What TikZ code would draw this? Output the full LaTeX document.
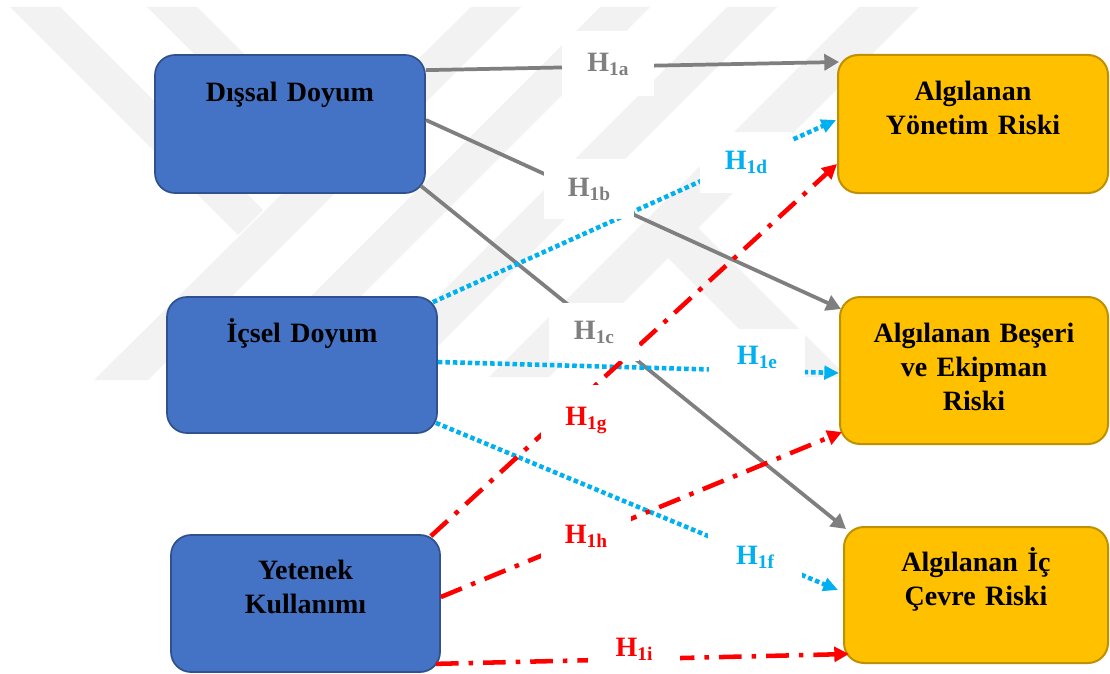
\documentclass[tikz,border=0pt]{standalone}
\usepackage{fontspec}
\setmainfont{Liberation Serif}
\usetikzlibrary{arrows.meta,calc}

\definecolor{boxblue}{HTML}{4472C4}
\definecolor{boxblueline}{HTML}{2F528F}
\definecolor{boxgold}{HTML}{FFC000}
\definecolor{boxgoldline}{HTML}{BF9000}
\definecolor{linkgray}{HTML}{7F7F7F}
\definecolor{linkcyan}{HTML}{00B0F0}
\definecolor{linkred}{HTML}{FF0000}
\definecolor{markgray}{HTML}{F2F2F2}

% hypothesis label: H with a lowered index
\newcommand{\hyp}[1]{H\raisebox{-3pt}{\fontsize{14.5}{15}\selectfont #1}}

\begin{document}
\begin{tikzpicture}[x=0.75pt,y=-0.75pt,
  bluebox/.style={draw=boxblueline,fill=boxblue,line width=1.3pt,rounded corners=15pt,inner sep=0pt},
  goldbox/.style={draw=boxgoldline,fill=boxgold,line width=1.5pt,rounded corners=15pt,inner sep=0pt},
  boxtext/.style={font=\fontsize{21}{25.5}\selectfont\bfseries,text width=190pt,align=center,anchor=base,inner sep=0pt},
  lbl/.style={fill=white,inner sep=0pt,font=\fontsize{21}{21}\selectfont\bfseries},
  graylink/.style={draw=linkgray,line width=2.8pt,-{Triangle[length=11pt,width=12pt]}},
  cyanlink/.style={draw=linkcyan,line width=3.4pt,dash pattern=on 3.4pt off 2.2pt,-{Triangle[length=11pt,width=10pt]}},
  redlink/.style={draw=linkred,line width=3.4pt,dash pattern=on 17pt off 7.5pt on 3.4pt off 7.5pt,-{Triangle[length=11pt,width=11pt]}}]

\useasboundingbox (0,0) rectangle (1110,674);
\fill[white] (0,0) rectangle (1110,674);

% faint background mark
\fill[markgray] (10,7) -- (60,7) -- (263,210) -- (238,235) -- cycle;
\fill[markgray] (471,7) -- (521,7) -- (148,380) -- (94,380) -- cycle;
\fill[markgray] (147,7) -- (197,7) -- (333,143) -- (307,167) -- cycle;
\fill[markgray] (600,7) -- (650,7) -- (277,380) -- (227,380) -- cycle;
\fill[markgray] (727,7) -- (777,7) -- (404,380) -- (354,380) -- cycle;
\fill[markgray] (859,7) -- (919,7) -- (549,377) -- (489,377) -- cycle;
\fill[markgray] (668,258) -- (698,228) -- (847,377) -- (787,377) -- cycle;

% source boxes
\node[bluebox,minimum width=202.5pt,minimum height=103.5pt] (ext) at (290,124) {};
\node[bluebox,minimum width=202.5pt,minimum height=102pt] (ins) at (302,365) {};
\node[bluebox,minimum width=201.75pt,minimum height=102.75pt] (yet) at (305.5,603.5) {};
% target boxes
\node[goldbox,minimum width=202.5pt,minimum height=103.5pt] (yon) at (973,124) {};
\node[goldbox,minimum width=201pt,minimum height=110.25pt] (bes) at (974,370.5) {};
\node[goldbox,minimum width=198pt,minimum height=102pt] (ice) at (976,595) {};

% box texts
\node[boxtext] (extT) at ($(ext.north)+(0,47)$) {Dışsal Doyum};
\node[boxtext] (insT) at ($(ins.north)+(0,46)$) {İçsel Doyum};
\node[boxtext] (yetT) at ($(yet.north)+(0,45.5)$) {Yetenek\\Kullanımı};
\node[boxtext] (yonT) at ($(yon.north)+(0,46)$) {Algılanan\\Yönetim Riski};
\node[boxtext] (besT) at ($(bes.north)+(0,46)$) {Algılanan Beşeri\\ve Ekipman\\Riski};
\node[boxtext] (iceT) at ($(ice.north)+(0,45.5)$) {Algılanan İç\\Çevre Riski};

% connectors
\draw[graylink] ($(ext.north east)+(0,16)$) -- ($(yon.north west)+(2,8)$);
\draw[graylink] ($(ext.east)+(0,-4)$) -- ($(bes.north west)+(2,13)$);
\draw[graylink] ($(ext.south east)+(-5,-8)$) -- ($(ice.north west)+(3,3)$);

\draw[cyanlink] ($(ins.north east)+(-5,6)$) -- ($(yon.west)+(-1,-4)$);
\draw[cyanlink] ($(ins.east)+(0,-3)$) -- ($(bes.west)+(0,2.5)$);
\draw[cyanlink] ($(ins.south east)+(-2,-11)$) -- ($(ice.west)+(-5,-5)$);

\draw[redlink] ($(yet.north east)+(-10,2)$) -- ($(yon.south west)+(0,-30)$);
\draw[redlink] ($(yet.east)+(0,-6.5)$) -- ($(bes.south west)+(3,-13)$);
\draw[redlink] ($(yet.south east)+(-5,-9)$) -- ($(ice.south west)+(6,-10)$);

% hypothesis labels
\node[lbl,text=linkgray,minimum width=69pt,minimum height=48.75pt] (lA) at (608,64) {\hyp{1a}};
\node[lbl,text=linkgray,minimum width=67.5pt,minimum height=45pt] (lB) at (589,189) {\hyp{1b}};
\node[lbl,text=linkgray,minimum width=67.5pt,minimum height=43.5pt] (lC) at (594,332) {\hyp{1c}};
\node[lbl,text=linkcyan,minimum width=69pt,minimum height=45.75pt] (lD) at (746,162) {\hyp{1d}};
\node[lbl,text=linkcyan,minimum width=72pt,minimum height=42pt] (lE) at (757,357) {\hyp{1e}};
\node[lbl,text=linkcyan,minimum width=70.5pt,minimum height=42pt] (lF) at (755,557) {\hyp{1f}};
\node[lbl,text=linkred,minimum width=67.5pt,minimum height=52.5pt] (lG) at (586,420) {\hyp{1g}};
\node[lbl,text=linkred,minimum width=67.5pt,minimum height=45pt] (lH) at (586,536) {\hyp{1h}};
\node[lbl,text=linkred,minimum width=69pt,minimum height=30pt] (lI) at (634,649) {\hyp{1i}};

\end{tikzpicture}
\end{document}
